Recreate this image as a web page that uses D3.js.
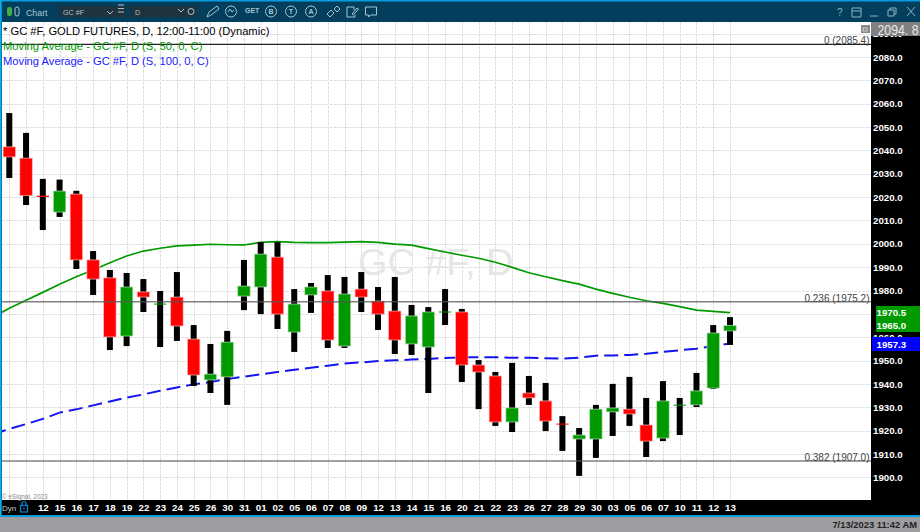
<!DOCTYPE html>
<html><head><meta charset="utf-8">
<script src="https://cdnjs.cloudflare.com/ajax/libs/d3/7.8.5/d3.min.js"></script>
<style>html,body{margin:0;padding:0;background:#fff;overflow:hidden}svg{display:block}text{font-family:"Liberation Sans",Arial,sans-serif}</style>
</head><body><svg id="c" width="920" height="532"></svg>
<script>
const dateLabels=["","","12","15","16","17","18","19","22","23","24","25","26","30","31","01","02","05","06","07","08","09","12","13","14","15","16","20","21","22","23","26","27","28","29","30","03","05","06","07","10","11","12","13"];
const open=[2041.5,2036.7,2020.6,2013.6,2021.3,1993.1,1985.4,1960.5,1979.4,1974.0,1977.2,1959.2,1941.7,1943.0,1977.6,1981.5,1994.3,1962.2,1978.1,1979.8,1956.2,1980.6,1975.5,1971.2,1957.1,1955.8,1970.6,1970.8,1948.1,1943.4,1923.7,1936.1,1932.7,1923.0,1916.4,1916.4,1928.0,1929.2,1922.4,1916.8,1930.9,1931.0,1938.2,1962.7];
const high=[2056.0,2047.5,2027.8,2027.5,2022.7,1996.9,1988.8,1987.5,1984.9,1979.8,1987.9,1965.2,1957.1,1962.7,1993.1,2000.8,2000.8,1980.6,1983.2,1986.6,1985.8,1987.9,1981.5,1985.8,1973.8,1972.9,1980.6,1972.1,1950.2,1945.1,1949.0,1943.4,1940.4,1926.2,1921.1,1931.0,1940.0,1943.0,1934.0,1941.2,1934.0,1944.7,1965.2,1968.6];
const low=[2028.2,2016.6,2005.9,2011.5,1989.2,1978.1,1954.5,1956.2,1970.8,1955.8,1958.4,1939.1,1936.1,1931.0,1971.6,1969.9,1963.5,1953.7,1970.4,1955.4,1955.4,1970.8,1963.1,1952.8,1952.4,1936.1,1965.2,1940.8,1929.2,1922.0,1919.4,1931.0,1919.8,1911.3,1900.6,1908.3,1917.7,1922.0,1908.7,1915.5,1918.1,1930.1,1937.8,1956.7];
const close=[2037.2,2020.6,2020.1,2022.6,1993.1,1984.9,1960.1,1981.5,1977.2,1974.4,1964.8,1943.8,1944.2,1957.9,1981.9,1995.6,1969.9,1974.2,1981.5,1958.8,1978.5,1977.2,1969.9,1958.8,1969.1,1970.8,1971.0,1948.1,1945.1,1923.7,1929.7,1934.0,1924.1,1922.6,1918.1,1929.2,1929.7,1927.1,1915.5,1932.7,1931.1,1937.0,1961.8,1965.0];
const ma50=[1968.4,1972.4,1975.8,1979.2,1982.7,1985.9,1988.8,1991.9,1994.8,1996.9,1998.1,1999.1,1999.4,1999.8,1999.6,1999.5,2000.6,2000.9,2000.6,2000.5,2000.5,2000.7,2000.9,2000.6,1999.9,1999.4,1997.9,1996.5,1995.1,1993.8,1992.1,1989.9,1987.6,1985.9,1984.2,1982.7,1980.6,1978.8,1977.1,1975.6,1974.5,1973.1,1971.6,1971.1,1970.5];
const ma100=[1918.3,1920.7,1922.8,1925.0,1927.7,1929.1,1930.8,1932.5,1934.1,1935.5,1937.1,1938.5,1939.8,1940.8,1942.1,1943.1,1944.1,1945.1,1946.1,1946.9,1947.8,1948.7,1949.2,1949.8,1950.1,1950.4,1950.7,1951.1,1951.4,1951.4,1951.4,1951.2,1951.2,1951.0,1950.8,1951.2,1952.1,1952.2,1952.4,1952.9,1953.7,1954.4,1955.1,1956.2,1957.3];
const fibLevels=[2085.4,1975.2,1907.0];
const fibNames=["0","0.236","0.382"];
const priceTicks=[1900,1910,1920,1930,1940,1950,1960,1980,1990,2000,2010,2020,2030,2040,2050,2060,2070,2080,2090];
const gridTicks=[1900,1910,1920,1930,1940,1950,1960,1970,1980,1990,2000,2010,2020,2030,2040,2050,2060,2070,2080,2090];
const titleLines=["* GC #F, GOLD FUTURES, D, 12:00-11:00 (Dynamic)","Moving Average - GC #F, D (S, 50, 0, C)","Moving Average - GC #F, D (S, 100, 0, C)"];

const svg=d3.select("#c");
const L=2,R=871,T=22,B=500;
const x=d3.scaleLinear().domain([0,43]).range([9.3,730]);
const y=d3.scaleLinear().domain([1900,2080]).range([477.3,57]);
const idx=d3.range(open.length);
const GREEN="#009a00",RED="#ff0000";

svg.append("rect").attr("width",920).attr("height",532).attr("fill","#000");
svg.append("rect").attr("x",L).attr("y",T).attr("width",R-L).attr("height",B-T).attr("fill","#fff");
svg.append("defs").append("clipPath").attr("id","plot").append("rect").attr("x",L).attr("y",T).attr("width",R-L).attr("height",B-T);
const plot=svg.append("g").attr("clip-path","url(#plot)");

// grid
plot.append("g").selectAll("line").data(gridTicks).join("line")
 .attr("x1",L).attr("x2",R).attr("y1",d=>Math.round(y(d))+.5).attr("y2",d=>Math.round(y(d))+.5)
 .attr("stroke","#dedede").attr("stroke-dasharray","3,1");
plot.append("g").selectAll("line").data(idx).join("line")
 .attr("y1",T).attr("y2",B).attr("x1",d=>Math.round(x(d))+.5).attr("x2",d=>Math.round(x(d))+.5)
 .attr("stroke","#dedede").attr("stroke-dasharray","3,1");

// watermark
plot.append("text").attr("x",358).attr("y",275).attr("font-size",37.8).attr("fill","#e6e6e6").text("GC #F, D");

// moving averages (first value sits one bar before the first candle)
const line=d3.line().x((d,i)=>x(i-1)).y(d=>y(d)).curve(d3.curveLinear);
plot.append("path").attr("d",line(ma50)).attr("fill","none").attr("stroke",GREEN).attr("stroke-width",1.7);
plot.append("path").attr("d",line(ma100)).attr("fill","none").attr("stroke","#1414f0").attr("stroke-width",2).attr("stroke-dasharray","14,6");

// candles
plot.append("g").selectAll("rect").data(idx).join("rect")
 .attr("x",i=>x(i)-3).attr("width",6).attr("y",i=>y(high[i])).attr("height",i=>y(low[i])-y(high[i])).attr("fill","#000");
plot.append("g").selectAll("rect").data(idx).join("rect")
 .attr("x",i=>x(i)-6.2).attr("width",12.4)
 .attr("y",i=>Math.min(y(open[i]),y(close[i])))
 .attr("height",i=>Math.max(1,Math.abs(y(open[i])-y(close[i]))))
 .attr("fill",i=>close[i]>=open[i]?GREEN:RED)
 .attr("stroke",i=>close[i]>=open[i]?"#b5dcb5":"#ffb5b5").attr("stroke-width",.7)
 .attr("stroke-opacity",i=>Math.abs(y(open[i])-y(close[i]))<2?0:1);

// fib levels
plot.append("g").selectAll("line").data(fibLevels).join("line")
 .attr("x1",L).attr("x2",R).attr("y1",d=>y(d)).attr("y2",d=>y(d))
 .attr("stroke",(d,i)=>i==0?"#222":"#555").attr("stroke-opacity",(d,i)=>i==0?1:.75).attr("stroke-width",(d,i)=>i==0?1.1:1.5);
plot.append("g").selectAll("text").data(fibLevels).join("text")
 .attr("x",869.5).attr("y",d=>y(d)-.2).attr("text-anchor","end").attr("font-size",10).attr("fill","#444")
 .text((d,i)=>`${fibNames[i]} (${d.toFixed(1)})`);

// title block
const titleColors=["#000",GREEN,"#1a1aff"];
svg.append("g").selectAll("text").data(titleLines).join("text")
 .attr("x",3).attr("y",(d,i)=>34.7+i*15.3).attr("font-size",11.2).attr("fill",(d,i)=>titleColors[i]).text(d=>d);
svg.append("text").attr("x",2).attr("y",499).attr("font-size",6.4).attr("fill","#8a8a8a").text("© eSignal, 2023");

// price axis (the 1970 label is hidden behind the value flags in the reference)
const yAxis=d3.axisRight(y).tickValues(priceTicks).tickSize(0).tickPadding(2).tickFormat(d3.format(".1f"));
const ya=svg.append("g").attr("transform",`translate(${R},0)`).call(yAxis);
ya.select(".domain").remove();
ya.selectAll("text").attr("fill","#fff").attr("font-size",9.7).attr("font-weight","bold").attr("font-family","Liberation Sans");

// date axis
const xAxis=d3.axisBottom(x).tickValues(idx.filter(i=>dateLabels[i])).tickSize(0).tickPadding(4).tickFormat(i=>dateLabels[i]);
const xa=svg.append("g").attr("transform",`translate(0,${B})`).call(xAxis);
xa.select(".domain").remove();
xa.selectAll("text").attr("fill","#fff").attr("font-size",9.7).attr("font-weight","bold").attr("font-family","Liberation Sans");
svg.append("text").attr("x",2).attr("y",511).attr("font-size",8).attr("fill","#c8c8c8").text("Dyn");
const lock=svg.append("g").attr("stroke","#0a88d8").attr("fill","none").attr("stroke-width",1.2);
lock.append("rect").attr("x",20.5).attr("y",505.5).attr("width",7).attr("height",6.5);
lock.append("path").attr("d","M22 505.5v-2a2 2 0 0 1 4 0v2M24 507.5v2");

// value flags
svg.append("rect").attr("x",876).attr("y",306).attr("width",44).attr("height",26).attr("fill",GREEN);
svg.append("rect").attr("x",872).attr("y",337).attr("width",48).attr("height",14).attr("fill","#0000ff");
const flags=[[ma50[ma50.length-1],312.5],[close[close.length-1],325.5],[ma100[ma100.length-1],344]];
svg.append("g").selectAll("text").data(flags).join("text").attr("x",876.5).attr("y",d=>d[1]+3.5)
 .attr("font-size",9.7).attr("font-weight","bold").attr("fill","#fff").text(d=>d[0].toFixed(1));

// top price box
svg.append("rect").attr("x",871).attr("y",22).attr("width",49).attr("height",14).attr("fill","#808080");
svg.append("text").attr("x",877.5).attr("y",34.5).attr("font-size",15).attr("textLength",41).attr("lengthAdjust","spacingAndGlyphs").attr("fill","#e8e8e8").text("2094. 8");
svg.append("rect").attr("x",861).attr("y",25).attr("width",9).attr("height",8).attr("fill","#888");
svg.append("rect").attr("x",863).attr("y",28).attr("width",4).attr("height",3).attr("fill","none").attr("stroke","#eee").attr("stroke-width",.7);

// window chrome
svg.append("rect").attr("x",0).attr("y",0).attr("width",920).attr("height",22).attr("fill","#033f5c");
svg.append("rect").attr("x",0).attr("y",0).attr("width",920).attr("height",1.5).attr("fill","#0a9ae0");
svg.append("rect").attr("x",0).attr("y",0).attr("width",1.7).attr("height",516).attr("fill","#08aef0");
svg.append("rect").attr("x",0).attr("y",515).attr("width",920).attr("height",2).attr("fill","#0a9ae0");
svg.append("rect").attr("x",0).attr("y",517).attr("width",920).attr("height",15).attr("fill","#9d9ca1");
svg.append("text").attr("x",917).attr("y",527.8).attr("text-anchor","end").attr("font-size",9.4).attr("font-weight","bold").attr("fill","#222").text("7/13/2023 11:42 AM");

const tb=svg.append("g");
tb.append("rect").attr("x",7).attr("y",7).attr("width",5).attr("height",9).attr("rx",2).attr("fill","#3fae4a");
tb.append("rect").attr("x",15).attr("y",7).attr("width",4).attr("height",9).attr("rx",2).attr("fill","none").attr("stroke","#a8c4d2");
tb.append("text").attr("x",26).attr("y",15.5).attr("font-size",8.8).attr("fill","#a8c4d2").text("Chart");
tb.append("rect").attr("x",59).attr("y",6).attr("width",67).attr("height",11).attr("fill","#20323e");
tb.append("text").attr("x",63).attr("y",14.5).attr("font-size",7.2).attr("fill","#b0c0c8").text("GC #F");
tb.append("rect").attr("x",130).attr("y",6).attr("width",67).attr("height",11).attr("fill","#20323e");
tb.append("text").attr("x",135).attr("y",14.5).attr("font-size",7.2).attr("fill","#b0c0c8").text("D");
const ic=tb.append("g").attr("fill","none").attr("stroke","#a8c4d2").attr("stroke-width",1);
ic.append("path").attr("d","M107 14l3 3 3-3M118 8h6M118 11.5h6M118 15h6").attr("transform","translate(0,-3)");
ic.append("path").attr("d","M178 9l3 3 3-3");
ic.append("circle").attr("cx",191).attr("cy",11.5).attr("r",3);
ic.append("path").attr("d","M207 17l2-5 8-6 2 3-8 6z");
ic.append("circle").attr("cx",231).attr("cy",11.5).attr("r",5.5);
ic.append("path").attr("d","M228 12l2-3 2 3 2-2");
ic.append("circle").attr("cx",271).attr("cy",11.5).attr("r",5.5);
ic.append("circle").attr("cx",291).attr("cy",11.5).attr("r",5.5);
ic.append("circle").attr("cx",311).attr("cy",11.5).attr("r",5.5);
ic.append("path").attr("d","M327 14l4-4 3 3-4 4zM334 9l3-3 3 3-3 3z");
ic.append("path").attr("d","M347 7h7v3M347 7v10h8v-2M352 14l5-6 1.500 1-5 6z");
ic.append("path").attr("d","M365.500 7h11v8h-6l-2 2v-2h-3z");
const tc=tb.append("g").attr("fill","#a8c4d2").attr("font-weight","bold");
tc.append("text").attr("x",245).attr("y",13).attr("font-size",7).text("GET");
tc.append("text").attr("x",271).attr("y",14).attr("text-anchor","middle").attr("font-size",7).text("B");
tc.append("text").attr("x",291).attr("y",14).attr("text-anchor","middle").attr("font-size",7).text("T");
tc.append("text").attr("x",311).attr("y",14).attr("text-anchor","middle").attr("font-size",7).text("A");
const wc=tb.append("g").attr("fill","none").attr("stroke","#8fb0c0").attr("stroke-width",1);
tb.append("text").attr("x",837).attr("y",16).attr("font-size",10).attr("fill","#8fb0c0").text("?");
wc.append("path").attr("d","M852 8h9v9h-9zM852 11h9");
wc.append("path").attr("d","M870 16h8");
wc.append("path").attr("d","M888 10h6v6h-6zM890 10v-2h6v6h-2");
wc.append("path").attr("d","M907 7l8 9M915 7l-8 9");
</script></body></html>
